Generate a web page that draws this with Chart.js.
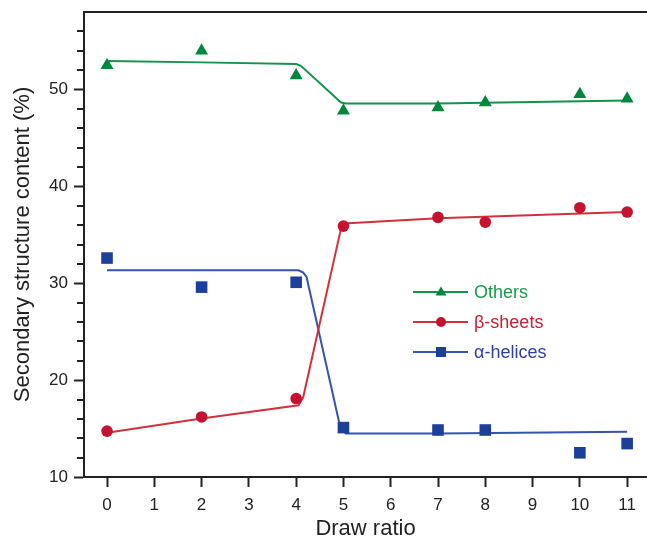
<!DOCTYPE html>
<html>
<head>
<meta charset="utf-8">
<script src="https://cdn.jsdelivr.net/npm/chart.js@4.4.0/dist/chart.umd.min.js"></script>
<style>
  html, body { margin: 0; padding: 0; background: #fff; }
  canvas { display: block; }
</style>
</head>
<body>
<canvas id="structChart" width="647" height="542"></canvas>
<script>
// --- data ---
const drawRatio = [0, 2, 4, 5, 7, 8, 10, 11];
const others = [52.5, 54.0, 51.45, 47.8, 48.15, 48.65, 49.5, 49.05];
const betaSheets = [14.74, 16.2, 18.1, 35.9, 36.8, 36.3, 37.8, 37.35];
const alphaHelices = [32.6, 29.6, 30.1, 15.1, 14.85, 14.85, 12.5, 13.45];

// fitted curves
const othersFitX = [0, 2, 4, 4.1, 4.95, 5.05, 7, 11];
const othersFitY = [52.95, 52.8, 52.62, 52.45, 48.65, 48.55, 48.55, 48.87];
const betaFitX = [0, 2, 4.05, 4.15, 4.96, 5.1, 7, 11];
const betaFitY = [14.57, 16.05, 17.4, 18.25, 35.9, 36.2, 36.7, 37.35];
const alphaFitX = [0, 4.05, 4.15, 4.22, 4.93, 5.05, 7, 11];
const alphaFitY = [31.34, 31.34, 31.1, 30.65, 15.19, 14.5, 14.5, 14.67];

const xTicks = [0, 1, 2, 3, 4, 5, 6, 7, 8, 9, 10, 11];
const yTicks = [10, 20, 30, 40, 50];

const green = '#00873d', red = '#c41230', blue = '#1c3f99';
const greenLine = '#14934a', redLine = '#d0323c', blueLine = '#3553b5';
const ink = '#222';
const font = '"Liberation Sans", Arial, Helvetica, sans-serif';

const pts = (xs, ys) => xs.map((x, i) => ({ x: x, y: ys[i] }));

function markerSet(label, ys, color, style, r) {
    return {
        label: label,
        data: pts(drawRatio, ys),
        showLine: false,
        pointStyle: style,
        pointRadius: r,
        pointBackgroundColor: color,
        pointBorderColor: color,
        pointBorderWidth: 0,
        markerColor: color,
        order: 1
    };
}

function fitSet(xs, ys, color) {
    return {
        data: pts(xs, ys),
        showLine: true,
        borderColor: color,
        borderWidth: 2,
        pointRadius: 0,
        tension: 0,
        fill: false,
        order: 2
    };
}

// short minor ticks every 2 units on the y axis
const minorTicks = {
    id: 'minorTicks',
    afterDraw(chart) {
        const y = chart.scales.y, ctx = chart.ctx;
        const left = chart.chartArea.left;
        ctx.save();
        ctx.strokeStyle = ink;
        ctx.lineWidth = 2;
        for (let v = y.min + 2; v < y.max; v += 2) {
            if (v % 10 === 0) continue;
            const py = Math.round(y.getPixelForValue(v));
            ctx.beginPath();
            ctx.moveTo(left - 7, py);
            ctx.lineTo(left, py);
            ctx.stroke();
        }
        ctx.restore();
    }
};

// legend inside the plot
const legendBox = {
    id: 'legendBox',
    afterDraw(chart) {
        const ctx = chart.ctx;
        const items = [
            { ds: chart.data.datasets[0], line: greenLine, text: '#1b9a4b' },
            { ds: chart.data.datasets[1], line: redLine, text: '#c8202f' },
            { ds: chart.data.datasets[2], line: blueLine, text: '#2f3fa0' }
        ];
        const x0 = 413, x1 = 468, mx = 441, tx = 474;
        const rows = [292, 322, 352];
        ctx.save();
        ctx.font = '18px ' + font;
        ctx.textBaseline = 'middle';
        items.forEach((it, i) => {
            const yy = rows[i];
            ctx.strokeStyle = it.line;
            ctx.lineWidth = 2;
            ctx.beginPath();
            ctx.moveTo(x0, yy);
            ctx.lineTo(x1, yy);
            ctx.stroke();
            ctx.fillStyle = it.ds.markerColor;
            ctx.beginPath();
            if (it.ds.pointStyle === 'triangle') {
                ctx.moveTo(mx, yy - 5.5);
                ctx.lineTo(mx + 5.5, yy + 3.5);
                ctx.lineTo(mx - 5.5, yy + 3.5);
                ctx.closePath();
            } else if (it.ds.pointStyle === 'circle') {
                ctx.arc(mx, yy, 5, 0, Math.PI * 2);
            } else {
                ctx.rect(mx - 5, yy - 5, 10, 10);
            }
            ctx.fill();
            ctx.fillStyle = it.text;
            ctx.fillText(it.ds.label, tx, yy + 1);
        });
        ctx.restore();
    }
};

new Chart(document.getElementById('structChart'), {
    type: 'scatter',
    data: {
        datasets: [
            markerSet('Others', others, green, 'triangle', 7.5),
            markerSet('β-sheets', betaSheets, red, 'circle', 5.8),
            markerSet('α-helices', alphaHelices, blue, 'rect', 8.2),
            fitSet(othersFitX, othersFitY, greenLine),
            fitSet(betaFitX, betaFitY, redLine),
            fitSet(alphaFitX, alphaFitY, blueLine)
        ]
    },
    options: {
        responsive: false,
        animation: false,
        layout: { autoPadding: false, padding: { top: 12, right: 0, bottom: 0, left: 0 } },
        plugins: {
            legend: { display: false },
            tooltip: { enabled: false }
        },
        scales: {
            x: {
                type: 'linear',
                min: -0.487,
                max: 11.42,
                afterBuildTicks: s => { s.ticks = xTicks.map(v => ({ value: v })); },
                afterFit: s => { s.height = 65; s.paddingLeft = 0; s.paddingRight = 0; },
                ticks: {
                    color: ink,
                    font: { family: font, size: 17 },
                    padding: 8
                },
                grid: {
                    drawOnChartArea: false,
                    tickLength: 10,
                    tickWidth: 2,
                    tickColor: ink
                },
                border: { display: true, color: ink, width: 2 },
                title: {
                    display: true,
                    text: 'Draw ratio',
                    color: ink,
                    font: { family: font, size: 22 },
                    padding: { top: 0, bottom: 0 }
                }
            },
            xTop: {
                type: 'linear',
                position: 'top',
                min: -0.487,
                max: 11.42,
                afterFit: s => { s.height = 0; },
                ticks: { display: false },
                grid: { display: false },
                border: { display: true, color: ink, width: 2 }
            },
            y: {
                type: 'linear',
                min: 10,
                max: 58,
                afterBuildTicks: s => { s.ticks = yTicks.map(v => ({ value: v })); },
                afterFit: s => { s.width = 84; s.paddingTop = 0; s.paddingBottom = 0; },
                ticks: {
                    color: ink,
                    font: { family: font, size: 17 },
                    padding: 6
                },
                grid: {
                    drawOnChartArea: false,
                    tickLength: 10,
                    tickWidth: 2,
                    tickColor: ink
                },
                border: { display: true, color: ink, width: 2 },
                title: {
                    display: true,
                    text: 'Secondary structure content (%)',
                    color: ink,
                    font: { family: font, size: 22 },
                    padding: { top: 10, bottom: 0 }
                }
            }
        }
    },
    plugins: [minorTicks, legendBox]
});
</script>
</body>
</html>
